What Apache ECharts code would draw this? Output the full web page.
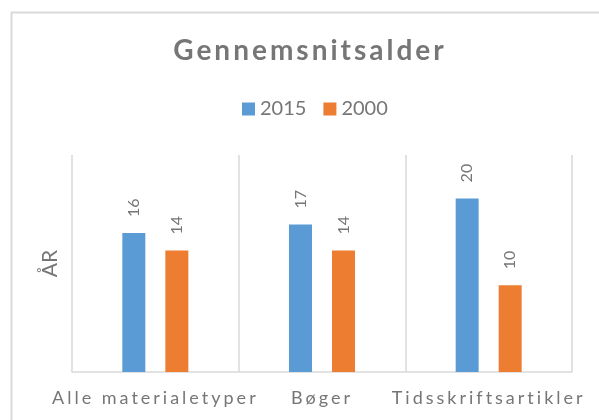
<!DOCTYPE html>
<html>
<head>
<meta charset="utf-8">
<script src="https://cdn.jsdelivr.net/npm/echarts@6/dist/echarts.min.js"></script>
<style>html,body{margin:0;padding:0;background:#fff}#c{width:599px;height:420px}</style>
</head>
<body>
<div id="c"></div>
<script>
const titleText = 'Gennemsnitsalder';
const categories = ['Alle materialetyper', 'Bøger', 'Tidsskriftsartikler'];
const seriesNames = ['2015', '2000'];
const values2015 = [16, 17, 20];
const values2000 = [14, 14, 10];
const yAxisName = 'ÅR';

// letter spacing for text drawn with the "spaced" family list
(function(){
  const P = CanvasRenderingContext2D.prototype;
  const orig = P.fillText;
  P.fillText = function(t, x, y, m){
    const f = this.font || '';
    const spaced = f.indexOf('sans-serif') >= 0;
    if ('letterSpacing' in this) this.letterSpacing = spaced ? '3px' : '0px';
    const r = m === undefined ? orig.call(this, t, x, y) : orig.call(this, t, x, y, m);
    if ('letterSpacing' in this) this.letterSpacing = '0px';
    return r;
  };
})();

const GRAY = '#767676';
const chart = echarts.init(document.getElementById('c'), null, {renderer: 'canvas'});
const labelCfg = {
  show: true, position: 'top', rotate: 90, align: 'left', verticalAlign: 'middle',
  distance: 16, color: GRAY, fontFamily: 'Lato', fontSize: 16
};
chart.setOption({
  animation: false,
  backgroundColor: '#fff',
  graphic: [{
    type: 'rect', left: 9, top: 10, shape: {width: 620, height: 440},
    style: {fill: 'none', stroke: '#d9d9d9', lineWidth: 2}, silent: true
  }],
  title: {
    text: titleText, left: 305, textAlign: 'center', top: 32,
    textStyle: {fontFamily: 'Lato, sans-serif', fontWeight: 'bold', fontSize: 28, color: GRAY}
  },
  legend: {
    data: seriesNames, top: 94, left: 237, itemWidth: 13, itemHeight: 13, itemGap: 17,
    icon: 'rect',
    textStyle: {fontFamily: 'Lato', fontSize: 20, color: GRAY}
  },
  grid: {left: 72, right: 27, top: 155, bottom: 48, containLabel: false},
  xAxis: {
    type: 'category', data: categories, boundaryGap: true,
    axisLine: {show: true, lineStyle: {color: '#d9d9d9', width: 1.5}},
    axisTick: {show: false},
    splitLine: {show: true, lineStyle: {color: '#d9d9d9', width: 1.5}},
    axisLabel: {interval: 0, margin: 17, fontFamily: 'Lato, sans-serif', fontSize: 18, color: GRAY}
  },
  yAxis: {
    type: 'value', min: 0, max: 25, interval: 5,
    name: yAxisName, nameLocation: 'middle', nameRotate: 90, nameGap: 11,
    nameTextStyle: {fontFamily: 'Lato', fontSize: 21, color: GRAY},
    axisLine: {show: false}, axisTick: {show: false}, axisLabel: {show: false},
    splitLine: {show: false}
  },
  series: [
    {name: seriesNames[0], type: 'bar', data: values2015, barWidth: 23, barGap: '87%',
     itemStyle: {color: '#5B9BD5'}, label: labelCfg},
    {name: seriesNames[1], type: 'bar', data: values2000, barWidth: 23, barGap: '87%',
     itemStyle: {color: '#ED7D31'}, label: labelCfg}
  ]
});
</script>
</body>
</html>
